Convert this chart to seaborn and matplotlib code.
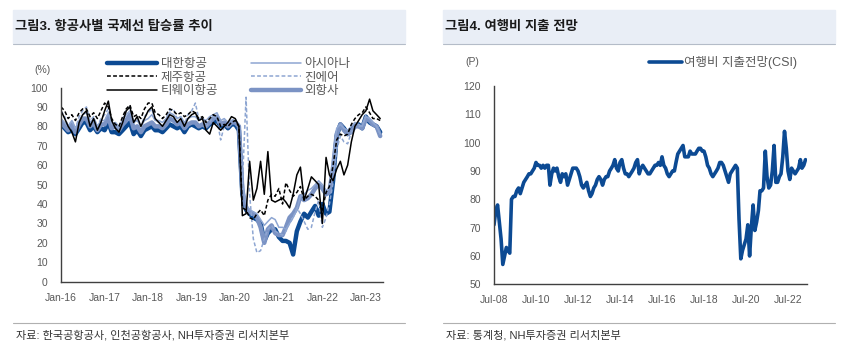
import matplotlib
matplotlib.use("Agg")
import pandas as pd
import seaborn as sns
import matplotlib.pyplot as plt
import matplotlib.dates as mdates
from matplotlib.lines import Line2D
from matplotlib.patches import Rectangle

# --- 그림3: 항공사별 국제선 탑승률 (%), monthly Jan-16 ~ May-23
months3 = pd.date_range("2016-01-01", "2023-05-01", freq="MS")
korean_air = [81, 79, 77, 78, 76, 79, 82, 82, 78, 80, 77, 79,
              78, 82, 77, 77, 76, 78, 80, 82, 76, 78, 75, 78,
              79, 80, 78, 78, 77, 79, 81, 80, 79, 80, 77, 80,
              81, 80, 79, 80, 79, 81, 82, 83, 80, 81, 79, 81,
              81, 78, 45, 37, 35, 33, 32, 30, 21, 25, 27, 27,
              23, 21, 21, 20, 14, 26, 31, 35, 33, 36, 39, 34,
              40, 35, 36, 52, 75, 81, 79, 76, 78, 80, 81, 79,
              85, 82, 81, 80, 77]
asiana = [84, 82, 80, 83, 79, 83, 86, 87, 82, 84, 80, 83,
          83, 87, 81, 82, 80, 83, 86, 88, 82, 83, 80, 83,
          84, 86, 83, 83, 82, 84, 87, 86, 84, 85, 82, 84,
          85, 85, 83, 84, 83, 85, 86, 87, 83, 84, 82, 83,
          83, 81, 50, 40, 37, 36, 35, 32, 29, 31, 33, 32,
          28, 28, 27, 30, 33, 37, 44, 45, 47, 48, 50, 52,
          50, 47, 48, 64, 79, 81, 79, 78, 80, 82, 81, 80,
          85, 84, 82, 80, 76]
jeju = [90, 88, 84, 86, 83, 87, 89, 89, 85, 87, 84, 88,
        92, 90, 84, 81, 80, 85, 89, 91, 85, 86, 84, 89,
        92, 92, 87, 86, 84, 86, 89, 88, 86, 87, 85, 86,
        88, 87, 84, 85, 82, 84, 86, 85, 80, 81, 80, 82,
        83, 80, 38, 37, 33, 32, 35, 37, 34, 42, 45, 44,
        48, 40, 51, 47, 44, 46, 49, 42, 44, 45, 44, 42,
        37, 46, 49, 60, 73, 76, 75, 76, 81, 84, 86, 87,
        90, 87, 84, 84, 83]
jinair = [88, 85, 80, 83, 79, 85, 88, 90, 83, 85, 80, 84,
          86, 89, 82, 81, 79, 84, 88, 90, 82, 84, 80, 85,
          87, 89, 83, 82, 80, 84, 88, 89, 84, 85, 81, 86,
          88, 92, 84, 84, 80, 82, 85, 84, 73, 80, 81, 83,
          84, 80, 50, 95, 45, 22, 15, 16, 22, 27, 29, 26,
          25, 24, 26, 30, 33, 38, 35, 31, 27, 28, 36, 42,
          28, 33, 40, 51, 68, 75, 72, 71, 77, 80, 80, 80,
          86, 84, 82, 80, 76]
tway = [88, 84, 80, 77, 72, 82, 86, 88, 80, 84, 78, 82,
        88, 93, 83, 79, 77, 82, 88, 90, 82, 85, 80, 84,
        88, 90, 84, 82, 80, 83, 86, 85, 82, 84, 80, 84,
        86, 87, 83, 84, 78, 76, 82, 80, 78, 80, 82, 85,
        84, 80, 34, 35, 62, 42, 48, 62, 45, 67, 42, 41,
        42, 43, 41, 38, 45, 55, 59, 42, 48, 54, 52, 50,
        30, 64, 55, 52, 58, 62, 55, 60, 72, 80, 83, 86,
        88, 94, 88, 86, 84]
foreign = [82, 80, 78, 81, 77, 81, 84, 84, 80, 82, 78, 81,
           81, 85, 79, 80, 78, 81, 83, 86, 79, 80, 77, 80,
           81, 82, 80, 80, 79, 81, 84, 83, 81, 82, 79, 81,
           82, 82, 80, 81, 80, 82, 84, 85, 81, 82, 80, 82,
           82, 80, 47, 38, 36, 35, 33, 28, 20, 27, 29, 25,
           24, 24, 28, 33, 35, 38, 44, 42, 43, 45, 48, 50,
           48, 45, 46, 59, 76, 81, 78, 76, 77, 80, 80, 79,
           84, 83, 81, 80, 75]

# --- 그림4: 여행비 지출전망 CSI (P), monthly Jul-08 ~ May-23
months4 = pd.date_range("2008-07-01", "2023-05-01", freq="MS")
travel_csi = [71, 76, 78, 72, 66, 57,
              60, 63, 62, 61, 80, 81, 81, 83, 84, 82, 84, 86,
              87, 88, 89, 89, 90, 91, 93, 92, 92, 91, 92, 91,
              92, 92, 85, 89, 91, 90, 91, 88, 86, 89, 88, 89,
              85, 87, 89, 91, 91, 91, 90, 88, 85, 84, 85, 86,
              83, 81, 82, 84, 85, 87, 88, 87, 85, 87, 88, 88,
              90, 91, 92, 94, 91, 90, 93, 94, 91, 89, 89, 88,
              89, 90, 91, 93, 94, 89, 91, 92, 91, 90, 89, 89,
              90, 91, 92, 92, 93, 92, 95, 92, 91, 89, 88, 89,
              90, 90, 93, 96, 97, 98, 99, 95, 95, 95, 97, 96,
              96, 96, 97, 98, 98, 97, 97, 95, 92, 91, 89, 88,
              89, 90, 91, 93, 93, 92, 90, 88, 86, 89, 90, 91,
              92, 91, 73, 59, 62, 64, 66, 71, 60, 70, 78, 69,
              72, 76, 83, 83, 84, 97, 88, 84, 85, 90, 99, 86,
              86, 88, 89, 95, 104, 98, 90, 87, 91, 90, 89, 90,
              91, 94, 91, 92, 94]

DARK = "#0c4a93"
STEEL = "#7b93c4"
LIGHT = "#8ea6d2"
GREY = "#595959"

sns.set_theme(style="white")
plt.rcParams["font.family"] = ["Liberation Sans", "Noto Sans CJK KR"]

fig = plt.figure(figsize=(8.47, 3.54), dpi=100)
W, H = 847, 354


def fx(px):
    return px / W


def fy(py):
    return 1 - py / H


# title bands + footer lines
for x0, title, src in [(13, "그림3. 항공사별 국제선 탑승률 추이", "자료: 한국공항공사, 인천공항공사, NH투자증권 리서치본부"),
                       (443, "그림4. 여행비 지출 전망", "자료: 통계청, NH투자증권 리서치본부")]:
    fig.patches.append(Rectangle((fx(x0), fy(43)), fx(392), fy(10) - fy(43),
                                 transform=fig.transFigure, color="#e9eef6", zorder=0))
    fig.add_artist(Line2D([fx(x0), fx(x0 + 392)], [fy(43.5), fy(43.5)],
                          color="#b4bcc8", lw=0.8))
    fig.text(fx(x0 + 2), fy(27), title, fontsize=9.6, fontweight="bold",
             color="#1a1a1a", va="center", ha="left")
    fig.add_artist(Line2D([fx(x0), fx(x0 + 392)], [fy(323), fy(323)],
                          color="#b0b0b0", lw=0.8))
    fig.text(fx(x0 + 3), fy(335.5), src, fontsize=8, color="#333333",
             va="center", ha="left")


def style_axis(ax):
    sns.despine(ax=ax)
    for s in ["left", "bottom"]:
        ax.spines[s].set_color("#404040")
        ax.spines[s].set_linewidth(1.0)
    ax.tick_params(direction="in", length=3, width=0.8, colors="#404040",
                   labelcolor=GREY, labelsize=7.5)
    ax.tick_params(axis="x", pad=8)
    ax.tick_params(axis="y", pad=9.5)
    ax.set_xlabel("")
    ax.set_ylabel("")
    ax.grid(False)


# ---- left chart
ax1 = fig.add_axes([fx(61), fy(281.7), fx(382.7 - 61), fy(87.5) - fy(281.7)])
series = [
    ("대한항공", korean_air, DARK, 3.2, "-"),
    ("외항사", foreign, STEEL, 3.2, "-"),
    ("아시아나", asiana, LIGHT, 1.1, "-"),
    ("진에어", jinair, LIGHT, 1.1, (0, (2.5, 1.5))),
    ("제주항공", jeju, "black", 1.1, (0, (2.5, 1.5))),
    ("티웨이항공", tway, "black", 1.1, "-"),
]
handles = {}
for name, vals, col, lw, ls in series:
    sns.lineplot(x=months3, y=vals, ax=ax1, color=col, linewidth=lw, linestyle=ls)
    handles[name] = Line2D([], [], color=col, lw=lw, linestyle=ls)

ax1.set_ylim(0, 100)
ax1.set_yticks(range(0, 101, 10))
ax1.set_xlim(pd.Timestamp("2016-01-01"), pd.Timestamp("2023-05-22"))
ax1.xaxis.set_major_locator(mdates.YearLocator(1, month=1, day=1))
ax1.xaxis.set_major_formatter(mdates.DateFormatter("%b-%y"))
style_axis(ax1)
fig.text(fx(42), fy(70), "(%)", fontsize=7.5, color=GREY, ha="center", va="center")

order = ["대한항공", "제주항공", "티웨이항공", "아시아나", "진에어", "외항사"]
fig.legend([handles[k] for k in order], order, ncol=2, frameon=False,
           loc="upper left", bbox_to_anchor=(fx(107), fy(58)),
           fontsize=9, labelcolor=GREY, handlelength=4.0, handletextpad=0.3,
           columnspacing=2.6, labelspacing=0.12, borderpad=0, borderaxespad=0)

# ---- right chart
ax2 = fig.add_axes([fx(494), fy(284.3), fx(806.7 - 494), fy(86) - fy(284.3)])
sns.lineplot(x=months4, y=travel_csi, ax=ax2, color=DARK, linewidth=2.6,
             label="여행비 지출전망(CSI)")
ax2.set_ylim(50, 120)
ax2.set_yticks(range(50, 121, 10))
ax2.set_xlim(pd.Timestamp("2008-07-01"), pd.Timestamp("2023-05-22"))
ax2.xaxis.set_major_locator(mdates.YearLocator(2, month=7, day=1))
ax2.xaxis.set_major_formatter(mdates.DateFormatter("%b-%y"))
style_axis(ax2)
ax2.legend(frameon=False, loc="upper left", bbox_to_anchor=(fx(649), fy(56)),
           bbox_transform=fig.transFigure, fontsize=9, labelcolor=GREY,
           handlelength=2.6, handletextpad=0.2, borderpad=0, borderaxespad=0)
fig.text(fx(472), fy(62), "(P)", fontsize=7.5, color=GREY, ha="center", va="center")

fig.savefig("out.png", dpi=100)
